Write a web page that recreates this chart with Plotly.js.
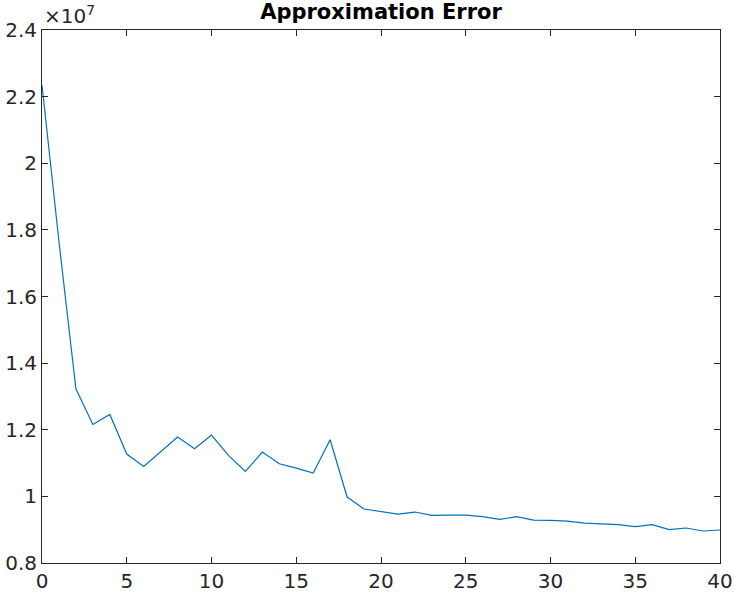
<!DOCTYPE html>
<html>
<head>
<meta charset="utf-8">
<script src="https://cdn.plot.ly/plotly-3.0.1.min.js"></script>
<style>
  html, body { margin: 0; padding: 0; background: #fff; }
  #chart { width: 735px; height: 595px; }
</style>
</head>
<body>
<div id="chart"></div>
<script>
// iteration number
const iterations = [];
for (let i = 0; i <= 40; i++) iterations.push(i);

// approximation error, in units of 1e7
const errorVals = [
  2.235, 1.765, 1.323, 1.216, 1.246, 1.127, 1.090, 1.134, 1.178, 1.143,
  1.184, 1.123, 1.075, 1.133, 1.098, 1.085, 1.070, 1.170, 0.998, 0.962,
  0.955, 0.947, 0.953, 0.943, 0.944, 0.944, 0.939, 0.931, 0.939, 0.929,
  0.928, 0.926, 0.920, 0.917, 0.915, 0.909, 0.915, 0.900, 0.905, 0.896,
  0.899
];

const xTicks = [0, 5, 10, 15, 20, 25, 30, 35, 40];
const yTicks = [0.8, 1, 1.2, 1.4, 1.6, 1.8, 2, 2.2, 2.4];
const yTickText = ['0.8', '1', '1.2', '1.4', '1.6', '1.8', '2', '2.2', '2.4'];

const axisColor = '#262626';
const tickFont = {family: 'DejaVu Sans, sans-serif', size: 20, color: axisColor};

const trace = {
  type: 'scatter',
  mode: 'lines',
  x: iterations,
  y: errorVals,
  line: {color: '#0072BD', width: 1.2},
  hoverinfo: 'skip'
};

const layout = {
  width: 735,
  height: 595,
  margin: {l: 42, r: 15, t: 30, b: 32},
  paper_bgcolor: '#fff',
  plot_bgcolor: '#fff',
  showlegend: false,
  title: {
    text: '<b>Approximation Error</b>',
    font: {family: 'DejaVu Sans, sans-serif', size: 21, color: '#000'},
    xref: 'paper', x: 0.5, xanchor: 'center',
    yref: 'container', y: 0.992, yanchor: 'top'
  },
  xaxis: {
    range: [0, 40],
    tickvals: xTicks,
    ticks: 'inside',
    ticklen: 6,
    tickcolor: axisColor,
    showline: true,
    linecolor: axisColor,
    linewidth: 1,
    mirror: 'ticks',
    showgrid: false,
    zeroline: false,
    automargin: false,
    tickfont: tickFont
  },
  yaxis: {
    range: [0.8, 2.4],
    tickvals: yTicks,
    ticktext: yTickText,
    ticks: 'inside',
    ticklen: 6,
    tickcolor: axisColor,
    showline: true,
    linecolor: axisColor,
    linewidth: 1,
    mirror: 'ticks',
    showgrid: false,
    zeroline: false,
    automargin: false,
    tickfont: tickFont
  },
  annotations: [{
    text: '×10<sup>7</sup>',
    xref: 'paper', yref: 'paper',
    x: 0, y: 1,
    xanchor: 'left', yanchor: 'bottom',
    showarrow: false,
    font: {family: 'DejaVu Sans, sans-serif', size: 20, color: axisColor}
  }]
};

Plotly.newPlot('chart', [trace], layout, {displayModeBar: false, staticPlot: true});
</script>
</body>
</html>
